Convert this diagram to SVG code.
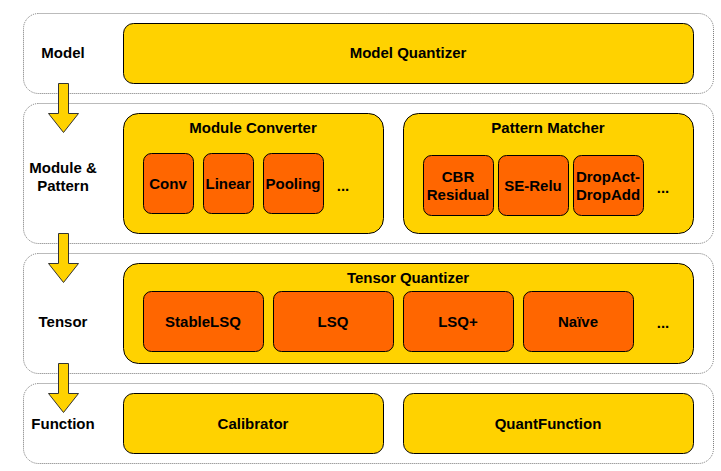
<svg xmlns="http://www.w3.org/2000/svg" width="721" height="471" viewBox="0 0 721 471">
<style>
.layer{fill:#fff;stroke:#777;stroke-width:1;stroke-dasharray:1 1}
.y{fill:#FFD200;stroke:#000;stroke-width:1}
.o{fill:#FF6600;stroke:#000;stroke-width:1}
text{font-family:"Liberation Sans",Arial,sans-serif;font-weight:bold;font-size:15px;fill:#000;text-anchor:middle}
.arr{fill:#FFD200;stroke:#333;stroke-width:1}
</style>
<rect width="721" height="471" fill="#fff"/>
<g id="layer-model"><rect class="layer" x="23.5" y="13.5" width="690" height="80" rx="15"/><text x="63" y="58">Model</text></g>
<g id="layer-module"><rect class="layer" x="23.5" y="103.5" width="690" height="140" rx="15"/><text x="63" y="173">Module &amp;</text><text x="63" y="191">Pattern</text></g>
<g id="layer-tensor"><rect class="layer" x="23.5" y="253.5" width="690" height="120" rx="15"/><text x="63" y="327">Tensor</text></g>
<g id="layer-function"><rect class="layer" x="23.5" y="383.5" width="690" height="80" rx="15"/><text x="63" y="429">Function</text></g>

<g id="model-quantizer"><rect class="y" x="123.5" y="23.5" width="570" height="60" rx="10"/><text x="408" y="58">Model Quantizer</text></g>

<g id="module-converter"><rect class="y" x="123.5" y="113.5" width="260" height="120" rx="15"/><text x="253" y="133">Module Converter</text></g>
<g id="conv"><rect class="o" x="143.5" y="153.5" width="50" height="60" rx="8"/><text x="168" y="189">Conv</text></g>
<g id="linear"><rect class="o" x="203.5" y="153.5" width="50" height="60" rx="8"/><text x="228" y="189">Linear</text></g>
<g id="pooling"><rect class="o" x="263.5" y="153.5" width="60" height="60" rx="8"/><text x="293" y="189">Pooling</text></g>
<text x="343" y="191">...</text>

<g id="pattern-matcher"><rect class="y" x="403.5" y="113.5" width="290" height="120" rx="15"/><text x="548" y="133">Pattern Matcher</text></g>
<g id="cbr-residual"><rect class="o" x="423.5" y="155.5" width="70" height="60" rx="8"/><text x="458" y="182">CBR</text><text x="458" y="200">Residual</text></g>
<g id="se-relu"><rect class="o" x="498.5" y="155.5" width="70" height="60" rx="8"/><text x="533" y="191">SE-Relu</text></g>
<g id="dropact"><rect class="o" x="573.5" y="155.5" width="70" height="60" rx="8"/><text x="608" y="182">DropAct-</text><text x="608" y="200">DropAdd</text></g>
<text x="663" y="193">...</text>

<g id="tensor-quantizer"><rect class="y" x="123.5" y="263.5" width="570" height="100" rx="15"/><text x="408" y="283">Tensor Quantizer</text></g>
<g id="stablelsq"><rect class="o" x="143.5" y="291.5" width="120" height="60" rx="8"/><text x="203" y="327">StableLSQ</text></g>
<g id="lsq"><rect class="o" x="273.5" y="291.5" width="120" height="60" rx="8"/><text x="333" y="327">LSQ</text></g>
<g id="lsqplus"><rect class="o" x="403.5" y="291.5" width="110" height="60" rx="8"/><text x="458" y="327">LSQ+</text></g>
<g id="naive"><rect class="o" x="523.5" y="291.5" width="110" height="60" rx="8"/><text x="578" y="327">Naïve</text></g>
<text x="663" y="328">...</text>

<g id="calibrator"><rect class="y" x="123.5" y="393.5" width="260" height="60" rx="10"/><text x="253" y="429">Calibrator</text></g>
<g id="quantfunction"><rect class="y" x="403.5" y="393.5" width="290" height="60" rx="10"/><text x="548" y="429">QuantFunction</text></g>

<g id="connectors">
<path class="arr" d="M58.5,83.5 H68.5 V113.5 H78.5 L63.5,132.5 L48.5,113.5 H58.5 Z"/>
<path class="arr" d="M58.5,233.5 H68.5 V263.5 H78.5 L63.5,282.5 L48.5,263.5 H58.5 Z"/>
<path class="arr" d="M58.5,363.5 H68.5 V393.5 H78.5 L63.5,412.5 L48.5,393.5 H58.5 Z"/>
</g>
</svg>
